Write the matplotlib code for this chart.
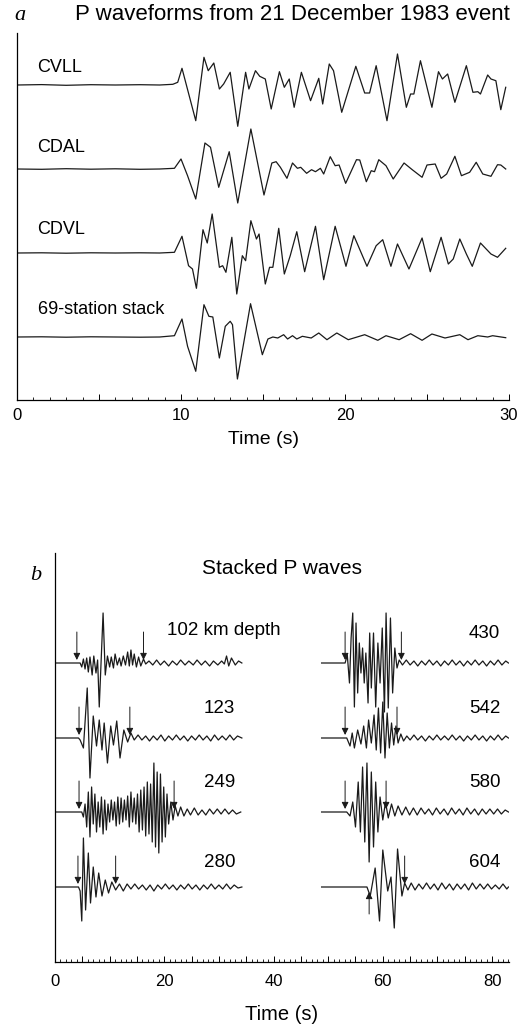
import numpy as np
import matplotlib.pyplot as plt
import matplotlib.ticker as mticker
from matplotlib import rcParams

rcParams['font.family'] = 'sans-serif'
rcParams['font.sans-serif'] = ['Liberation Sans', 'DejaVu Sans']

# ---- panel a: P waveforms, 21 Dec 1983 (time s, amplitude in plot units)
cvll_t = [0.0, 1.5, 3.0, 4.5, 6.0, 7.5, 8.7, 9.5, 9.8, 10.06, 10.9, 11.4, 11.66, 12.0, 12.34, 12.6,
          13.0, 13.46, 13.94, 14.14, 14.54, 14.8, 15.14, 15.5, 16.0, 16.3, 16.6, 16.9, 17.34,
          17.9, 18.4, 18.64, 19.04, 19.3, 19.8, 20.66, 21.2, 21.5, 21.9, 22.56, 23.2, 23.74,
          24.0, 24.2, 24.6, 25.3, 25.7, 25.94, 26.26, 26.7, 27.4, 27.8, 28.1, 28.26, 28.7,
          28.9, 29.2, 29.5, 29.8]
cvll_a = [0, 0.4, -0.3, 0.3, 0, 0.3, 0, 0.7, 2.7, 16.7, -35.7, 27.7, 14.3, 22, -4, 1,
          12.7, -41.3, 12.7, -4, 14.3, 8.7, 6, -24, 13.3, -2.3, 6, -22.3, 12.7,
          -15.7, 6.7, -19, 21, 14.3, -27.3, 18.7, -8, -8, 19.3, -35.7, 31, -22.3,
          -9, -9, 24.3, -22.3, 13.3, 6, 11, -17.3, 19.3, -7.3, -6.7, -9, 10,
          6, 4.3, -24.7, -2.3]

cdal_t = [0.0, 1.5, 3.0, 4.5, 6.0, 7.5, 8.7, 9.6, 10.0, 10.4, 10.9, 11.46, 11.8, 12.3, 12.94,
          13.46, 14.26, 15.06, 15.54, 15.8, 16.06, 16.46, 16.8, 17.1, 17.3, 17.66, 17.96,
          18.2, 18.5, 18.7, 19.1, 19.4, 19.64, 20.04, 20.7, 20.9, 21.3, 21.6, 21.8, 22.06,
          22.5, 22.94, 23.6, 24.1, 24.7, 25.0, 25.5, 25.86, 26.2, 26.7, 27.1, 27.6, 28.0,
          28.4, 28.9, 29.3, 29.5, 29.8]
cdal_a = [0, -0.3, 0.3, -0.2, 0.2, -0.3, 0, 0.7, 10, -6.7, -30, 26, 21.7, -18.3, 17.3,
          -34, 40, -26, 6, 7.3, 1.7, -9.3, 6, 0.7, 1.7, -4.3, -0.7,
          -2.7, 0.7, -5, 12.3, 3.3, 4, -14.3, 9.3, 9, -12.7, -1.7, -2.7, 9.3,
          3.3, -10, 6, -0.7, -8.3, 4, 5, -9.3, -5, 12.7, -6.7, -3.3, 6.7,
          -5, -7.3, 4.3, 4, 0]

cdvl_t = [0.0, 1.5, 3.0, 4.5, 6.0, 7.5, 8.7, 9.6, 10.06, 10.46, 10.7, 10.94, 11.34, 11.6, 11.9,
          12.34, 12.54, 12.74, 13.1, 13.4, 13.74, 13.94, 14.26, 14.6, 14.76, 15.14, 15.4,
          15.6, 15.96, 16.3, 16.66, 17.06, 17.54, 18.2, 18.7, 19.4, 20.06, 20.54, 21.34,
          21.9, 22.3, 22.8, 23.2, 23.9, 24.7, 25.2, 25.86, 26.3, 26.6, 27.0, 27.4, 27.76,
          28.26, 28.9, 29.3, 29.8]
cdvl_a = [0, 0.2, -0.2, 0.2, 0, 0.2, 0, 0.7, 16.7, -12.7, -16, -35.3, 23.3, 10, 39,
          -14.3, -12.7, -19.3, 15.7, -41, -2.7, -7.7, 32.3, 14, 19, -31, -14.3,
          -14.3, 24.7, -21, -2.7, 21.3, -18.7, 26.7, -26.7, 26.7, -13.3, 17.3, -13.3,
          7.3, 13.3, -13.3, 9, -16, 15, -18.7, 15.7, -11, -6, 14, -1, -13.3,
          10, -1, -4.3, 4.7]

stack_t = [0.0, 1.5, 3.0, 4.5, 6.0, 7.5, 8.7, 9.6, 10.06, 10.4, 10.9, 11.4, 11.7, 11.94, 12.34,
           12.7, 13.0, 13.14, 13.44, 14.24, 14.96, 15.3, 15.6, 15.9, 16.26, 16.5, 16.8, 17.06,
           17.4, 17.94, 18.4, 18.9, 19.5, 20.2, 21.2, 22.0, 22.5, 23.3, 24.0, 24.7, 25.3,
           26.1, 27.0, 27.5, 28.1, 28.7, 29.0, 29.8]
stack_a = [0, 0.2, -0.2, 0.2, 0, -0.2, 0, 1.3, 18, -9.3, -34.3, 32.3, 20.7, 20, -21,
           10.7, 15.7, 12.3, -42, 33.3, -17.7, -2, 0, -1, 2.3, -2, 1.3, -2,
           0.7, -1, 4, -2.7, 4, -2.7, 2.3, -3.3, 1.3, -2.7, 3.3, -3.3, 3,
           -1, 2.3, -2.7, 1.3, 0, 1.3, -0.7]

a_names = ['CVLL', 'CDAL', 'CDVL', '69-station stack']
a_base = [-85, -169, -253, -337]

# ---- panel b: stacked P waves by depth
d102_t = [0, 4.6, 4.9, 5.2, 5.5, 5.8, 6.1, 6.4, 6.8, 7.1, 7.5, 7.8, 8.1, 8.8, 9.2, 9.6, 10.0,
          10.3, 10.7, 11.0, 11.4, 11.8, 12.1, 12.5, 12.9, 13.3, 13.6, 13.9, 14.2, 14.5, 14.9,
          15.3, 15.7, 16.2, 16.6, 17.2, 17.9, 18.6, 19.3, 20.0, 20.8, 21.5, 22.3, 23.0, 23.8,
          24.5, 25.3, 26.0, 26.8, 27.5, 28.3, 29.0, 29.8, 30.5, 31.0, 31.4, 31.8, 32.3, 33.0,
          33.6, 34.2]
d102_a = [0, 0, -4, 4, -6, 5, -9, 6, -12, 7, -10, 3, -44, 50, -12, 7, -4,
          6, -5, 9, -2, 5, -3, 7, -2, 11, -3, 13, -2, 9, -4,
          6, -3, 4, -1, 2, -2, 3, -2, 2, -3, 2, -2, 3, -2,
          2, -2, 3, -2, 2, -3, 2, -2, 2, -1, 7, -3, 5, -2,
          2, 0]

d123_t = [0, 4.3, 4.6, 5.2, 5.9, 6.4, 7.0, 7.6, 8.1, 8.6, 9.0, 9.6, 10.2, 10.7, 11.3, 11.9,
          12.6, 13.3, 13.9, 14.5, 15.2, 15.9, 16.6, 17.3, 18.0, 18.7, 19.4, 20.1, 20.8, 21.5,
          22.2, 22.9, 23.6, 24.3, 25.0, 25.7, 26.4, 27.1, 27.8, 28.5, 29.2, 29.9, 30.6, 31.3,
          32.0, 32.7, 33.4, 34.2]
d123_a = [0, 0, -2, -10, 50, -40, 22, -8, 18, -12, 15, -25, 12, -7, 17, -20,
          8, -4, 5, -2, 3, -2, 2, -3, 2, -2, 3, -3, 2, -2,
          3, -2, 2, -3, 2, -2, 3, -2, 2, -3, 3, -2, 2, -2,
          3, -2, 2, 0]

d249_t = [0, 4.9, 5.2, 5.5, 5.8, 6.1, 6.4, 6.7, 7.0, 7.3, 7.6, 7.9, 8.2, 8.5, 8.8, 9.1, 9.4,
          9.7, 10.0, 10.3, 10.6, 10.9, 11.2, 11.5, 11.8, 12.1, 12.4, 12.7, 13.0, 13.3, 13.6,
          13.9, 14.2, 14.5, 14.8, 15.1, 15.4, 15.7, 16.0, 16.3, 16.6, 16.9, 17.2, 17.5, 17.8,
          18.1, 18.4, 18.7, 19.0, 19.3, 19.6, 19.9, 20.2, 20.5, 20.8, 21.2, 21.6, 22.0, 22.5,
          23.0, 23.6, 24.2, 24.8, 25.5, 26.2, 26.9, 27.6, 28.3, 29.0, 29.7, 30.4, 31.1, 31.8,
          32.5, 33.2, 34.0]
d249_a = [0, 0, -5, 8, -15, 20, -25, 25, -12, 18, -20, 10, -15, 15, -22, 12, -18,
          8, -10, 12, -8, 10, -14, 15, -12, 14, -10, 12, -8, 16, -15,
          20, -10, 14, -12, 18, -20, 22, -18, 25, -24, 30, -22, 28, -30,
          49, -35, 40, -41, 38, -30, 25, -25, 18, -12, 10, -8, 6, -4,
          5, -4, 3, -3, 4, -3, 2, -3, 3, -2, 3, -2, 3, -2,
          2, -2, 0]

d280_t = [0, 4.3, 4.6, 4.9, 5.2, 5.6, 6.1, 6.5, 7.0, 7.5, 8.0, 8.6, 9.2, 9.8, 10.4, 11.1,
          11.8, 12.5, 13.2, 13.9, 14.6, 15.3, 16.0, 16.7, 17.4, 18.1, 18.8, 19.5, 20.2, 20.9,
          21.6, 22.3, 23.0, 23.7, 24.4, 25.1, 25.8, 26.5, 27.2, 27.9, 28.6, 29.3, 30.0, 30.7,
          31.4, 32.1, 32.8, 33.5, 34.2]
d280_a = [0, 0, -4, -34, 49, -23, 34, -16, 20, -10, 14, -9, 7, -6, 5, -3,
          3, -4, 3, -2, 3, -2, 2, -3, 2, -4, 2, -2, 3, -2,
          2, -3, 2, -2, 3, -2, 2, -3, 2, -2, 3, -2, 2, -2,
          3, -2, 2, -1, 0]

d430_t = [48.8, 53.1, 53.5, 53.9, 54.2, 54.5, 54.8, 55.1, 55.4, 55.7, 56.0, 56.3, 56.6, 56.9,
          57.3, 57.6, 57.9, 58.3, 58.7, 59.1, 59.5, 59.9, 60.3, 60.6, 61.0, 61.4, 61.8, 62.2,
          62.6, 63.0, 63.6, 64.3, 65.0, 65.7, 66.4, 67.1, 67.8, 68.5, 69.2, 69.9, 70.6, 71.3,
          72.0, 72.7, 73.4, 74.1, 74.8, 75.5, 76.2, 76.9, 77.6, 78.3, 79.0, 79.7, 80.4, 81.1,
          81.8, 82.5, 83.0]
d430_a = [0, 0, 8, -20, 25, 50, -44, 40, -30, 20, -10, 15, -20, 10,
          -40, 30, -25, 30, -44, 20, -20, 35, -49, 50, -45, 45, -30, 15,
          -5, 3, -2, 3, -2, 2, -3, 2, -2, 3, -2, 2, -3, 2,
          -2, 3, -2, 2, -3, 2, -2, 3, -2, 2, -3, 2, -2, 3,
          -2, 2, 0]

d542_t = [48.8, 53.4, 54.0, 54.4, 54.8, 55.4, 56.0, 56.5, 57.0, 57.4, 57.9, 58.4, 58.8, 59.2,
          59.6, 60.0, 60.4, 60.8, 61.2, 61.6, 62.0, 62.4, 62.8, 63.3, 63.8, 64.4, 65.0, 65.7,
          66.4, 67.1, 67.8, 68.5, 69.2, 69.9, 70.6, 71.3, 72.0, 72.7, 73.4, 74.1, 74.8, 75.5,
          76.2, 76.9, 77.6, 78.3, 79.0, 79.7, 80.4, 81.1, 81.8, 82.5, 83.0]
d542_a = [0, 0, -8, 5, -10, 8, -6, 12, -10, 18, -5, 23, -12, 30,
          -15, 36, -20, 25, -10, 15, -7, 12, -5, 4, -3, 2, -2, 3,
          -2, 2, -3, 2, -2, 3, -2, 2, -2, 3, -2, 2, -3, 2,
          -2, 3, -2, 2, -3, 2, -2, 3, -2, 2, 0]

d580_t = [48.8, 53.4, 54.0, 54.5, 55.0, 55.5, 55.9, 56.3, 56.7, 57.1, 57.5, 57.9, 58.3, 58.7,
          59.1, 59.5, 60.0, 60.5, 61.0, 61.6, 62.2, 62.8, 63.5, 64.2, 64.9, 65.6, 66.3, 67.0,
          67.7, 68.4, 69.1, 69.8, 70.5, 71.2, 71.9, 72.6, 73.3, 74.0, 74.7, 75.4, 76.1, 76.8,
          77.5, 78.2, 78.9, 79.6, 80.3, 81.0, 81.7, 82.4, 83.0]
d580_a = [0, 0, -4, 10, -15, 30, -20, 45, -30, 49, -50, 40, -35, 30,
          -20, 15, -8, 10, -6, 8, -4, 6, -3, 5, -3, 4, -3, 4,
          -2, 3, -3, 4, -2, 3, -3, 4, -2, 3, -3, 4, -2, 3,
          -3, 3, -2, 3, -2, 3, -2, 2, 0]

d604_t = [48.8, 57.1, 57.7, 58.6, 59.4, 60.0, 60.9, 61.5, 62.1, 62.7, 63.5, 64.0, 64.6, 65.2,
          65.9, 66.6, 67.3, 68.0, 68.7, 69.4, 70.1, 70.8, 71.5, 72.2, 72.9, 73.6, 74.3, 75.0,
          75.7, 76.4, 77.1, 77.8, 78.5, 79.2, 79.9, 80.6, 81.3, 82.0, 82.7, 83.0]
d604_a = [0, 0, -9, 19, -34, 37, -4, 10, -41, 38, -9, 4, -3, 4,
          -3, 3, -2, 4, -2, 3, -3, 4, -2, 3, -3, 3, -2, 3,
          -3, 4, -2, 3, -2, 3, -2, 2, -2, 3, -2, 0]

b_labels = ['102 km depth', '123', '249', '280', '430', '542', '580', '604']
b_base = [-663, -738, -812, -887, -663, -738, -812, -887]
# window arrows (time, trace index, pointing down?)
arrow_t = [4.0, 16.2, 4.4, 13.7, 4.4, 21.8, 4.2, 11.1, 53.1, 63.4, 53.1, 62.6, 53.1, 60.6, 57.5, 64.0]
arrow_i = [0, 0, 1, 1, 2, 2, 3, 3, 4, 4, 5, 5, 6, 6, 7, 7]
arrow_down = [True] * 14 + [False, True]

lc = '#1a1a1a'
fig = plt.figure(figsize=(5.29, 10.24), dpi=100)


def style_axis(ax, major, label_every, pad):
    for s in ['top', 'right']:
        ax.spines[s].set_visible(False)
    ax.spines['left'].set_linewidth(0.9)
    ax.spines['bottom'].set_linewidth(0.9)
    ax.set_yticks([])
    ax.xaxis.set_major_locator(mticker.MultipleLocator(major))
    ax.xaxis.set_minor_locator(mticker.MultipleLocator(1))
    ax.xaxis.set_major_formatter(mticker.FuncFormatter(
        lambda v, p: '%d' % v if abs(v % label_every) < 1e-6 else ''))
    ax.tick_params(axis='x', which='major', direction='in', length=4, width=0.7,
                   labelsize=12, pad=pad)
    ax.tick_params(axis='x', which='minor', direction='in', length=2, width=0.6)


# panel a
axa = fig.add_axes([17 / 529, 1 - 400 / 1024, 492 / 529, 367 / 1024])
for tt, aa, b in zip([cvll_t, cdal_t, cdvl_t, stack_t],
                     [cvll_a, cdal_a, cdvl_a, stack_a], a_base):
    axa.plot(tt, np.array(aa) + b, color=lc, lw=0.9, solid_joinstyle='round')
for name, b, dy in zip(a_names, a_base, [17, 22, 23, 27]):
    axa.text(1.25, b + dy, name, fontsize=13, va='center', ha='left')
axa.set_xlim(0, 30)
axa.set_ylim(-400, -33)
style_axis(axa, 5, 10, 6)

# panel b
axb = fig.add_axes([55 / 529, 1 - 962 / 1024, 454 / 529, 409 / 1024])
b_t = [d102_t, d123_t, d249_t, d280_t, d430_t, d542_t, d580_t, d604_t]
b_a = [d102_a, d123_a, d249_a, d280_a, d430_a, d542_a, d580_a, d604_a]
for tt, aa, b in zip(b_t, b_a, b_base):
    axb.plot(tt, np.array(aa) + b, color=lc, lw=0.9, solid_joinstyle='round')
for k, lab in enumerate(b_labels):
    dy = 25 if k in (3, 7) else 30
    if k == 0:
        axb.text(20.5, b_base[k] + 33, lab, fontsize=13.5, va='center', ha='left')
    else:
        xr = 33.0 if k < 4 else 81.5
        axb.text(xr, b_base[k] + dy, lab, fontsize=13.5, va='center', ha='right')
for t0, i, dn in zip(arrow_t, arrow_i, arrow_down):
    b = b_base[i]
    if dn:
        axb.annotate('', xy=(t0, b + 3), xytext=(t0, b + 31),
                     arrowprops=dict(arrowstyle='-|>', color=lc, lw=0.7,
                                     mutation_scale=10, shrinkA=0, shrinkB=0))
    else:
        axb.annotate('', xy=(t0, b - 5), xytext=(t0, b - 27),
                     arrowprops=dict(arrowstyle='-|>', color=lc, lw=0.7,
                                     mutation_scale=10, shrinkA=0, shrinkB=0))
axb.set_xlim(0, 83.1)
axb.set_ylim(-962, -553)
style_axis(axb, 5, 20, 9)

# titles and labels
fig.text(20 / 529, 1 - 15 / 1024, 'a', fontsize=16, style='italic', family='Liberation Serif',
         ha='center', va='center')
fig.text(292 / 529, 1 - 15 / 1024, 'P waveforms from 21 December 1983 event', fontsize=16,
         ha='center', va='center')
fig.text(263 / 529, 1 - 440 / 1024, 'Time (s)', fontsize=14, ha='center', va='center')
fig.text(36 / 529, 1 - 575 / 1024, 'b', fontsize=16, style='italic', family='Liberation Serif',
         ha='center', va='center')
fig.text(282 / 529, 1 - 568 / 1024, 'Stacked P waves', fontsize=15, ha='center', va='center')
fig.text(282 / 529, 1 - 1015 / 1024, 'Time (s)', fontsize=14.5, ha='center', va='center')

fig.savefig('out.png', dpi=100, facecolor='white')
